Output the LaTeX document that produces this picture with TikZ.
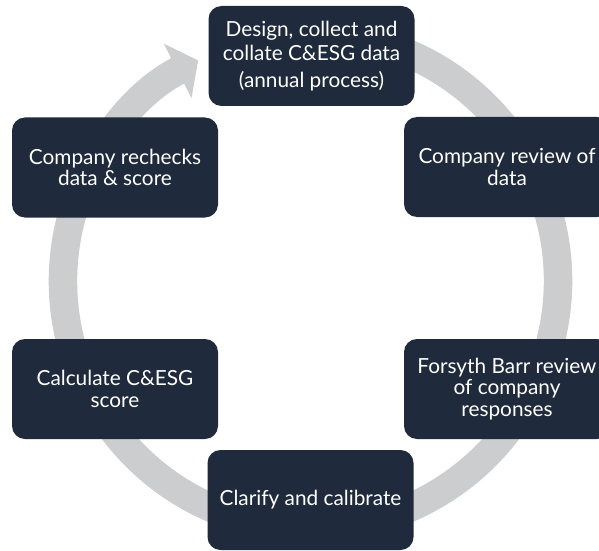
\documentclass[tikz,border=0pt]{standalone}
\usepackage{fontspec}
\setmainfont{Lato}
\usetikzlibrary{positioning,arrows.meta}
\definecolor{navy}{RGB}{31,42,60}
\definecolor{ringgray}{RGB}{204,205,207}
\tikzset{stepbox/.style={fill=navy,rounded corners=13pt,minimum width=206pt,minimum height=100pt,inner sep=0pt,text=white,align=center,font=\fontsize{20.8}{21.5}\selectfont}  }
\tikzset{ring/.style={draw=ringgray,line width=28.5pt}  }

\begin{document}
\begin{tikzpicture}[x=1pt,y=1pt]
	\clip (0,0) rectangle (599,550);
	\coordinate (c) at (310.5,269);

	% the cycle, ending in the arrow into the first step
	\draw[ring,-{Triangle[length=23pt,width=60pt]}]
		(c) ++(80:247.5) arc[start angle=80,end angle=-243,radius=247.5];

	\node[stepbox] (design) at (311.5,494) {Design, collect and\\[3pt] collate C\&ESG data\\[5pt] (annual process)};
	\node[stepbox] (review) at (507,383) {Company review of\\ data};
	\node[stepbox] (fbreview) at (507,161) {Forsyth Barr review\\ of company\\ responses};
	\node[stepbox] (clarify) at (310.5,50) {Clarify and calibrate};
	\node[stepbox] (calc) at (115,161) {Calculate C\&ESG\\ score};
	\node[stepbox] (recheck) at (115,382.5) {Company rechecks\\ data \& score};
\end{tikzpicture}
\end{document}
